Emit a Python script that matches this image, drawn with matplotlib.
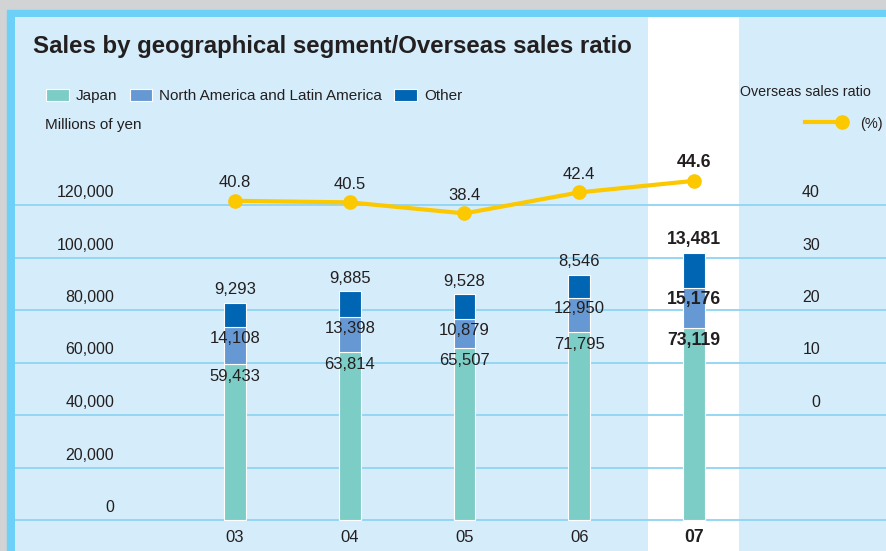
"""
    Sales by geographical segment / overseas sales ratio
"""
from matplotlib import pyplot as plt
from matplotlib.patches import Rectangle, Patch
from matplotlib.lines import Line2D
from matplotlib.transforms import blended_transform_factory

plt.rcParams['font.family'] = ['Liberation Sans', 'DejaVu Sans']

years = ["03", "04", "05", "06", "07"]
japan = [59433, 63814, 65507, 71795, 73119]
americas = [14108, 13398, 10879, 12950, 15176]
other = [9293, 9885, 9528, 8546, 13481]
ratio = [40.8, 40.5, 38.4, 42.4, 44.6]
left_ticks = [0, 20000, 40000, 60000, 80000, 100000, 120000]
right_ticks = [0, 10, 20, 30, 40]

c_japan = "#7dcdc7"
c_amer = "#6699d3"
c_other = "#0066b3"
c_line = "#fcc800"
c_grid = "#8fd4f3"
txt = "#231f20"

W, H = 886, 551
fig = plt.figure(figsize=(8.86, 5.51), dpi=100, facecolor="#d2d3d5")


def fx(px):
    return px / W


def fy(py):
    return 1 - py / H


# 外框（青色）
fig.patches.append(Rectangle((fx(7), 0), 1 - fx(7), fy(10), transform=fig.transFigure,
                             color="#6dd0f7", zorder=-10))

ax = fig.add_axes([fx(15), 0, 1 - fx(15), fy(17)])
ax.set_facecolor("#d5edfa")
ax.set_zorder(1)

# 像素 -> 数据 的比例: 0 在 520px, 120000 在 205px
k = 120000 / (520 - 205)
y_lo = -(551 - 520) * k
y_hi = (520 - 17) * k
ax.set_ylim(y_lo, y_hi)
step = 114.75
ax.set_xlim((15 - 235) / step, (886 - 235) / step)

ax2 = ax.twinx()
ax2.set_ylim((y_lo - 40000) / 2000, (y_hi - 40000) / 2000)

for a in (ax, ax2):
    for s in a.spines.values():
        s.set_visible(False)
    a.set_xticks([])
    a.set_yticks([])

x = list(range(len(years)))

# 07 高亮白色列
ax.axvspan(3.6, 4.39, color="white", zorder=0.5, lw=0)

for v in left_ticks:
    ax.axhline(v, color=c_grid, lw=1.3, zorder=1)

bw = 0.19
bottom2 = [j + a for j, a in zip(japan, americas)]
b1 = ax.bar(x, japan, bw, color=c_japan, edgecolor="white", lw=0.8, zorder=2, label="Japan")
b2 = ax.bar(x, americas, bw, bottom=japan, color=c_amer, edgecolor="white", lw=0.8, zorder=2,
            label="North America and Latin America")
b3 = ax.bar(x, other, bw, bottom=bottom2, color=c_other, edgecolor="white", lw=0.8, zorder=2,
            label="Other")

ax2.plot(x, ratio, color=c_line, lw=3, marker="o", ms=9.5, zorder=3)

# 数值标注
for i in x:
    last = i == len(years) - 1
    fw = "bold" if last else "normal"
    fs = 12.7 if last else 12
    total = bottom2[i] + other[i]
    ax.annotate(f"{other[i]:,}", (i, total), xytext=(0, 9.5), textcoords="offset points",
                ha="center", va="center", fontsize=fs, fontweight=fw, color=txt, zorder=4)
    ax.annotate(f"{americas[i]:,}", (i, bottom2[i]), xytext=(0, -8), textcoords="offset points",
                ha="center", va="center", fontsize=fs, fontweight=fw, color=txt, zorder=4)
    ax.annotate(f"{japan[i]:,}", (i, japan[i]), xytext=(0, -9), textcoords="offset points",
                ha="center", va="center", fontsize=fs, fontweight=fw, color=txt, zorder=4)
    ax2.annotate(f"{ratio[i]}", (i, ratio[i]), xytext=(0, 13), textcoords="offset points",
                 ha="center", va="center", fontsize=fs, fontweight=fw, color=txt, zorder=4)
    ax.annotate(years[i], (i, 0), xytext=(0, -12.5), textcoords="offset points",
                ha="center", va="center", fontsize=fs, fontweight=fw, color=txt)

# 左右刻度标签（在网格线上方）
tr_left = blended_transform_factory(fig.transFigure, ax.transData)
for v in left_ticks:
    ax.annotate(f"{v:,}", (fx(114), v), xycoords=tr_left, xytext=(0, 9),
                textcoords="offset points", ha="right", va="center", fontsize=11.5, color=txt)
tr_right = blended_transform_factory(fig.transFigure, ax2.transData)
for v in right_ticks:
    ax2.annotate(f"{v}", (fx(820), v), xycoords=tr_right, xytext=(0, 9),
                 textcoords="offset points", ha="right", va="center", fontsize=11.5, color=txt)

# 标题与说明
fig.text(fx(33), fy(46), "Sales by geographical segment/Overseas sales ratio",
         fontsize=17.3, fontweight="bold", color=txt, va="center", ha="left", zorder=5)
fig.text(fx(45), fy(125), "Millions of yen", fontsize=11, color=txt, va="center", zorder=5)
fig.text(fx(740), fy(92), "Overseas sales ratio", fontsize=10.3, color=txt, va="center", zorder=5)
fig.add_artist(Line2D([fx(805), fx(842)], [fy(122), fy(122)], transform=fig.transFigure,
                      color=c_line, lw=3, zorder=5))
fig.add_artist(Line2D([fx(842)], [fy(122)], transform=fig.transFigure, color=c_line,
                      marker="o", ms=9.5, zorder=5))
fig.text(fx(860), fy(124), "(%)", fontsize=10.5, color=txt, va="center", zorder=5)

handles = [Patch(facecolor=c_japan, edgecolor="white", lw=0.8, label="Japan"),
           Patch(facecolor=c_amer, edgecolor="white", lw=0.8, label="North America and Latin America"),
           Patch(facecolor=c_other, edgecolor="white", lw=0.8, label="Other")]
ax.legend(handles=handles, ncol=3, frameon=False, loc="center left",
          bbox_to_anchor=(fx(46), fy(96)), bbox_transform=fig.transFigure,
          fontsize=11, handlelength=1.5, handleheight=0.85, handletextpad=0.45,
          columnspacing=0.8, borderpad=0, borderaxespad=0, labelcolor=txt)

fig.savefig("out.png", dpi=100, facecolor=fig.get_facecolor())
